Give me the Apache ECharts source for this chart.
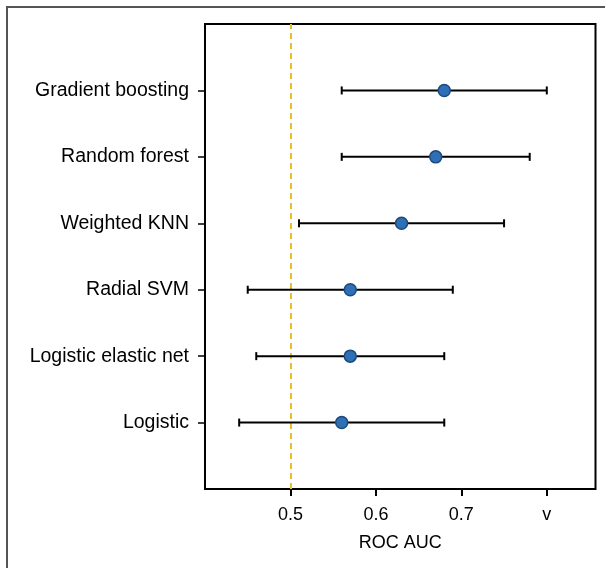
<!DOCTYPE html>
<html>
<head>
<meta charset="utf-8">
<script src="https://cdn.jsdelivr.net/npm/echarts@6/dist/echarts.min.js"></script>
<style>
html,body{margin:0;padding:0;background:#fff;}
#chart{width:605px;height:568px;}
</style>
</head>
<body>
<div id="chart"></div>
<script>
// Models listed top to bottom
const models = ['Gradient boosting', 'Random forest', 'Weighted KNN', 'Radial SVM', 'Logistic elastic net', 'Logistic'];
const aucPoint = [0.68, 0.67, 0.63, 0.57, 0.57, 0.56];
const aucLower = [0.56, 0.56, 0.51, 0.45, 0.46, 0.44];
const aucUpper = [0.80, 0.78, 0.75, 0.69, 0.68, 0.68];
const xTickValues = [0.5, 0.6, 0.7, 0.8];
const xTickLabels = ['0.5', '0.6', '0.7', 'v'];
const refLine = 0.5;
const xTitle = 'ROC AUC';

const n = models.length;
const yPos = models.map((m, i) => n - i);
const yLabelMap = {};
models.forEach((m, i) => { yLabelMap[n - i] = m; });

const chart = echarts.init(document.getElementById('chart'), null, {renderer: 'canvas'});
const FONT = 'Liberation Sans, Arial, Helvetica, sans-serif';

const option = {
  animation: false,
  backgroundColor: '#fff',
  grid: {
    left: 205, right: 9.5, top: 24, bottom: 79,
    show: true, borderColor: '#000', borderWidth: 2, backgroundColor: 'transparent'
  },
  xAxis: {
    type: 'value', min: 0.4, max: 0.857,
    splitLine: {show: false},
    axisLine: {show: false},
    axisTick: {show: true, customValues: xTickValues, length: 7, lineStyle: {color: '#000', width: 2}},
    axisLabel: {
      customValues: xTickValues,
      formatter: v => xTickLabels[xTickValues.findIndex(t => Math.abs(t - v) < 1e-9)],
      color: '#000', fontSize: 18, fontFamily: FONT, margin: 17
    },
    name: xTitle, nameLocation: 'middle', nameGap: 45,
    nameTextStyle: {color: '#000', fontSize: 18, fontFamily: FONT}
  },
  yAxis: {
    type: 'value', min: 0, max: n + 1,
    splitLine: {show: false},
    axisLine: {show: false},
    axisTick: {show: true, customValues: yPos, length: 7, lineStyle: {color: '#000', width: 1.5}},
    axisLabel: {
      customValues: yPos,
      formatter: v => yLabelMap[v] || '',
      color: '#000', fontSize: 19.5, fontFamily: FONT, margin: 16
    }
  },
  series: [
    {
      type: 'custom',
      data: models.map((m, i) => [aucLower[i], aucUpper[i], n - i]),
      renderItem: function (params, api) {
        const lo = api.coord([api.value(0), api.value(2)]);
        const hi = api.coord([api.value(1), api.value(2)]);
        const cap = 4;
        const style = {stroke: '#000', lineWidth: 2};
        return {
          type: 'group',
          children: [
            {type: 'line', shape: {x1: lo[0], y1: lo[1], x2: hi[0], y2: hi[1]}, style: style},
            {type: 'line', shape: {x1: lo[0], y1: lo[1] - cap, x2: lo[0], y2: lo[1] + cap}, style: style},
            {type: 'line', shape: {x1: hi[0], y1: hi[1] - cap, x2: hi[0], y2: hi[1] + cap}, style: style}
          ]
        };
      },
      z: 2
    },
    {
      type: 'scatter',
      data: models.map((m, i) => [aucPoint[i], n - i]),
      symbol: 'circle',
      symbolSize: 12,
      itemStyle: {color: '#2f6fb6', borderColor: '#1d4a7c', borderWidth: 1.5, opacity: 1},
      z: 3,
      markLine: {
        silent: true,
        symbol: 'none',
        label: {show: false},
        lineStyle: {color: '#e6bf2c', type: [6, 4], width: 2},
        data: [{xAxis: refLine}],
        z: 1
      }
    }
  ],
  graphic: [
    {type: 'line', shape: {x1: 6, y1: 7, x2: 605, y2: 7}, style: {stroke: '#555', lineWidth: 2}},
    {type: 'line', shape: {x1: 7, y1: 6, x2: 7, y2: 568}, style: {stroke: '#555', lineWidth: 2}}
  ]
};
chart.setOption(option);
</script>
</body>
</html>
